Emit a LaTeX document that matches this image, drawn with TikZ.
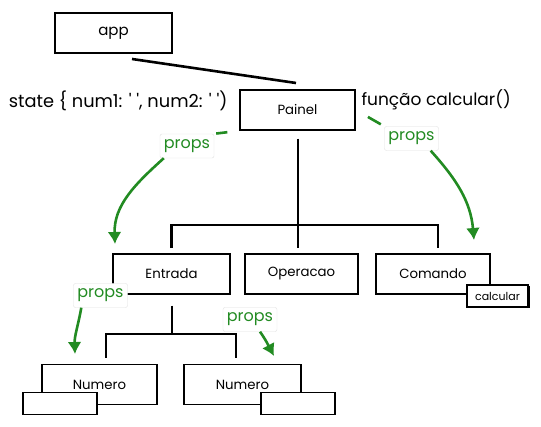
\documentclass[tikz,border=0pt]{standalone}
\usepackage{fontspec}
\setmainfont{Poppins}
\usetikzlibrary{arrows.meta,shadows}

\definecolor{propgreen}{RGB}{34,139,34}

\begin{document}
\begin{tikzpicture}[x=1pt,y=1pt,
  box/.style={draw,line width=1.5pt,minimum height=40pt,inner sep=0pt,font=\fontsize{13.3}{15}\selectfont},
  tab/.style={draw,fill=white,line width=1.5pt,minimum height=22pt,inner sep=0pt,font=\fontsize{11}{12}\selectfont},
  tree/.style={line width=2.6pt},
  prop/.style={propgreen,line width=2.6pt},
  propto/.style={prop,-{Latex[length=12pt,width=14pt]}},
  proptag/.style={draw=black!12,fill=white,rounded corners=2pt,text=propgreen,inner sep=0pt,minimum height=24pt,minimum width=54pt,font=\fontsize{16}{18}\selectfont}]

\useasboundingbox (0,0) rectangle (541,427);

\node[box,minimum width=117pt,font=\fontsize{15}{17}\selectfont] (app) at (113.5,394) {app};
\node[box,minimum width=115pt] (painel) at (297.5,317) {Painel};

\node[anchor=base east,font=\fontsize{17.8}{20}\selectfont] (state) at (231,319) {state \{ num1: \textquotesingle\ \textquotesingle, num2: \textquotesingle\ \textquotesingle)};
\node[anchor=base west,font=\fontsize{17}{19}\selectfont] (funcao) at (358,321) {função calcular()};

\node[box,minimum width=117pt] (entrada) at (171.5,153) {Entrada};
\node[box,minimum width=113pt] (operacao) at (301.5,153) {Operacao};
\node[box,minimum width=114pt] (comando) at (433,153) {Comando};
\node[tab,minimum width=61pt,drop shadow={opacity=1,fill=black,shadow xshift=1.5pt,shadow yshift=-1.5pt}] (calcular) at (497.5,131) {calcular};

\node[box,minimum width=115pt] (numeroa) at (99.5,42.5) {Numero};
\node[tab,minimum width=74pt] (vazioa) at (60,23.5) {};
\node[box,minimum width=117pt] (numerob) at (242.5,42.5) {Numero};
\node[tab,minimum width=74pt] (vaziob) at (298,23.5) {};

\coordinate (appfim) at (132,368);
\coordinate (painelfim) at (296,344);
\draw[tree] (appfim) -- (painelfim);

\coordinate (barra) at (298,202);
\draw[tree,shorten <=8pt,shorten >=5pt] (painel.south -| barra) -- (operacao.north -| barra);
\draw[tree,shorten <=5pt,shorten >=5pt] (entrada.north) |- (barra) -| ([xshift=5pt]comando.north);

\coordinate (sub) at (172,93);
\draw[tree,shorten <=11pt] (entrada.south -| sub) -- (sub);
\draw[tree,shorten <=6pt,shorten >=6pt] ([xshift=6.5pt]numeroa.north) |- (sub) -| ([xshift=-6.5pt]numerob.north);

\node[proptag] (pa) at (187,281) {props};
\node[proptag] (pb) at (411.5,288.5) {props};
\node[proptag] (pc) at (100.5,131.5) {props};
\node[proptag] (pd) at (250,107.5) {props};

\coordinate (alvoa) at (115,183);
\coordinate (alvob) at (474,187);
\coordinate (alvoc) at (75,73);
\coordinate (alvod) at (274,71);

\draw[prop,shorten <=2pt,shorten >=12pt] (pa.north east) -- (painel.south west);
\draw[prop,shorten <=4pt,shorten >=14pt] (pb.north west) -- (painel.east);

\draw[propto] ([xshift=4pt]pa.south west) to[out=222,in=92] (alvoa);
\draw[propto] ([xshift=-8pt]pb.south east) to[out=-48,in=95] (alvob);
\draw[propto] ([xshift=8pt]pc.south west) to[out=-100,in=92] (alvoc);
\draw[propto] ([xshift=10pt]pd.south) to[out=-55,in=118] (alvod);

\end{tikzpicture}
\end{document}
